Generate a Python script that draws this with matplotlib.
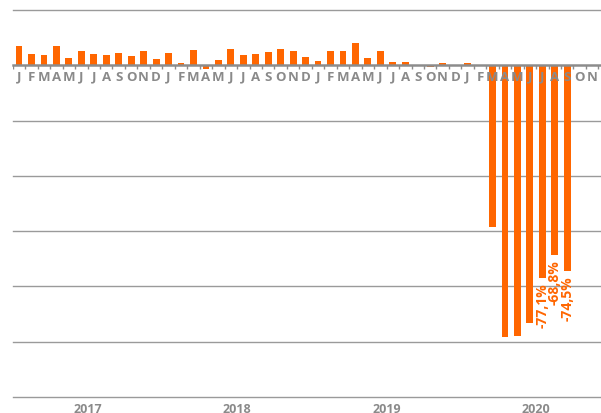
import matplotlib
matplotlib.use("Agg")
import matplotlib.pyplot as plt

# --- Data (monthly % change, Jan 2017 .. Nov 2020) ---
MONTH_LETTERS = (list("JFMAMJJASOND") * 3) + list("JFMAMJJASON")
YEARS = ["2017", "2018", "2019", "2020"]
VALUES = [
    7.1, 4.1, 3.6, 7.1, 2.6, 5.2, 4.2, 3.6, 4.6, 3.5, 5.1, 2.3,   # 2017
    4.5, 0.8, 5.4, -1.3, 2.0, 5.9, 3.6, 4.1, 4.7, 5.9, 5.3, 3.0,  # 2018
    1.7, 5.2, 5.1, 8.2, 2.6, 5.1, 1.2, 1.3, 0.2, -0.6, 0.7, 0.1,  # 2019
    1.0, 0.0, -58.6, -98.4, -98.0, -93.3, -77.1, -68.8, -74.5, 0, 0,  # 2020
]
LABELED = {42: "-77,1%", 43: "-68,8%", 44: "-74,5%"}  # Jul, Aug, Sep 2020
GRID_LEVELS = [20, 0, -20, -40, -60, -80, -100, -120]

BAR_COLOR = "#ff6600"
TEXT_GRAY = "#8a8a8a"
GRID_GRAY = "#9a9a9a"

plt.rcParams["font.family"] = ["Open Sans", "DejaVu Sans"]


def main():
    fig = plt.figure(figsize=(6.01, 4.14), dpi=100)
    ax = fig.add_axes([12.8 / 601, 10.5 / 414, (601 - 12.8) / 601, 398 / 414])
    n = len(VALUES)
    xs = list(range(n))

    ax.set_xlim(-0.5, -0.5 + (601 - 12.8) / 12.46)
    ax.set_ylim(-122, 22)
    ax.axis("off")

    # gridlines
    for lvl in GRID_LEVELS:
        if lvl == 0:
            continue
        ax.axhline(lvl, color=GRID_GRAY, lw=1.0, zorder=1, clip_on=False)

    ax.bar(xs, VALUES, width=0.55, color=BAR_COLOR, zorder=2)

    # zero axis with ticks at month boundaries
    ax.axhline(0, color="#8c8c8c", lw=1.8, zorder=3, clip_on=False)
    ax.vlines([i - 0.5 for i in range(n + 1)], -1.2, 0, color="#8c8c8c",
              lw=1.0, zorder=3)

    for i, letter in enumerate(MONTH_LETTERS):
        ax.text(i, -3.9, letter, ha="center", va="center", fontsize=9.5,
                fontweight="bold", color=TEXT_GRAY, zorder=4)

    for k, year in enumerate(YEARS):
        ax.text(12 * k + 5.5, -124, year, ha="center", va="center",
                fontsize=9, fontweight="bold", color=TEXT_GRAY, clip_on=False)

    for idx, label in LABELED.items():
        ax.annotate(label, (idx, VALUES[idx]), xytext=(0, -3),
                    textcoords="offset points", rotation=90, ha="center",
                    va="top", fontsize=10, fontweight="bold", color=BAR_COLOR)

    fig.savefig("out.png", dpi=100)


if __name__ == "__main__":
    main()
